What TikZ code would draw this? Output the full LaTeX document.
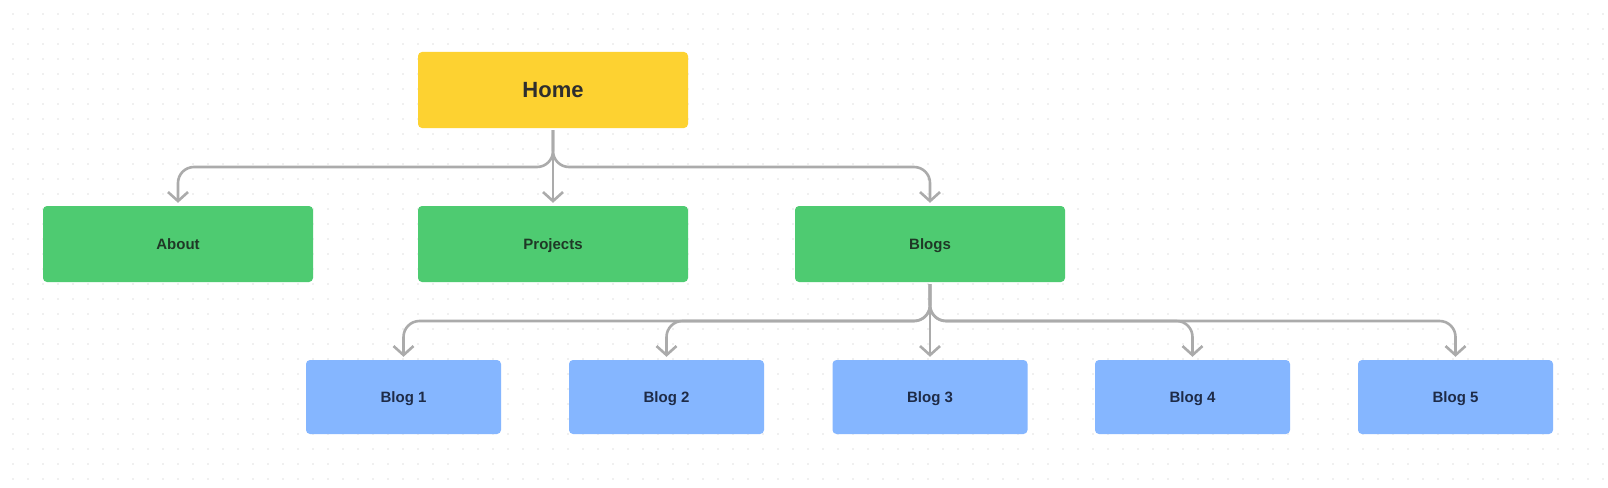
\documentclass[tikz,border=0pt]{standalone}
\usepackage{fontspec}
\setmainfont{Liberation Sans}
\usetikzlibrary{arrows.meta}
\definecolor{homec}{HTML}{FDD231}
\definecolor{greenc}{HTML}{4ECB71}
\definecolor{bluec}{HTML}{85B6FF}
\definecolor{linec}{HTML}{ABABAB}
\definecolor{dotc}{HTML}{E2E2E2}
\definecolor{txtc}{HTML}{2E2E2E}
\definecolor{gtxt}{HTML}{1F3826}
\definecolor{btxt}{HTML}{1E2B47}
\tikzset{
 box/.style={rounded corners=4pt, inner sep=0pt, text height=10.8pt, text depth=0pt, font=\bfseries\fontsize{15}{18}\selectfont},
 homebox/.style={box, fill=homec, minimum width=270pt, minimum height=76pt, text=txtc, text height=15.8pt, font=\bfseries\fontsize{22}{26}\selectfont},
 pagebox/.style={box, fill=greenc, minimum width=270pt, minimum height=76pt, text=gtxt},
 blogbox/.style={box, fill=bluec, minimum width=195pt, minimum height=74pt, text=btxt},
 conn/.style={draw=linec, line width=2.6pt, rounded corners=16pt, -{Straight Barb[length=9pt,width=20pt]}, shorten >=3pt, shorten <=2pt},
}
\begin{document}
\begin{tikzpicture}[x=1pt,y=-1pt]
\useasboundingbox (0,0) rectangle (1608,487);
\fill[white] (0,0) rectangle (1608,487);
\fill[dotc] \foreach \i in {0,...,106} {\foreach \j in {0,...,31} {(13+15*\i,14+15*\j) circle (0.9pt)}};

\node[homebox] (home) at (553,90) {Home};
\node[pagebox] (about) at (178,244) {About};
\node[pagebox] (projects) at (553,244) {Projects};
\node[pagebox] (blogs) at (930,244) {Blogs};
\node[blogbox] (b1) at (403.5,397) {Blog 1};
\node[blogbox] (b2) at (666.5,397) {Blog 2};
\node[blogbox] (b3) at (930,397) {Blog 3};
\node[blogbox] (b4) at (1192.5,397) {Blog 4};
\node[blogbox] (b5) at (1455.5,397) {Blog 5};

\coordinate (hb) at (553,167);
\coordinate (bb) at (930,321);

\draw[conn] (home.south) -- (home.south |- hb) -- (about.north |- hb) -- (about.north);
\draw[conn] (home.south) -- (projects.north);
\draw[conn] (home.south) -- (home.south |- hb) -- (blogs.north |- hb) -- (blogs.north);

\draw[conn] (blogs.south) -- (blogs.south |- bb) -- (b1.north |- bb) -- (b1.north);
\draw[conn] (blogs.south) -- (blogs.south |- bb) -- (b2.north |- bb) -- (b2.north);
\draw[conn] (blogs.south) -- (b3.north);
\draw[conn] (blogs.south) -- (blogs.south |- bb) -- (b4.north |- bb) -- (b4.north);
\draw[conn] (blogs.south) -- (blogs.south |- bb) -- (b5.north |- bb) -- (b5.north);
\end{tikzpicture}
\end{document}
